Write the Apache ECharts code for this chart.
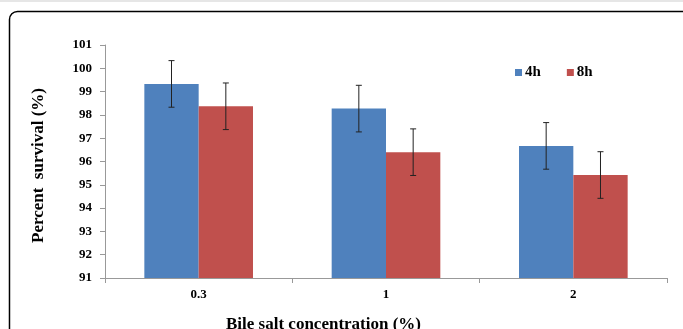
<!DOCTYPE html>
<html><head><meta charset="utf-8">
<script src="https://cdn.jsdelivr.net/npm/echarts@6/dist/echarts.min.js"></script>
<style>html,body{margin:0;padding:0;background:#fff}#c{width:683px;height:329px}</style>
</head><body><div id="c"></div>
<script>
const categories = ['0.3', '1', '2'];
const seriesNames = ['4h', '8h'];
const values4h = [99.33, 98.27, 96.67];
const values8h = [98.37, 96.40, 95.42];
const err4h = [1.0, 1.0, 1.0];
const err8h = [1.0, 1.0, 1.0];
const yTicks = [91, 92, 93, 94, 95, 96, 97, 98, 99, 100, 101];

const chart = echarts.init(document.getElementById('c'));
const FONT = '"Liberation Serif","Times New Roman",serif';
const catGap = 0.42;

function errSeries(vals, errs, idx) {
  return {
    type: 'custom',
    name: 'err' + idx,
    z: 10,
    data: vals.map((v, i) => [i, v, errs[i]]),
    renderItem: function (params, api) {
      const ci = api.value(0), v = api.value(1), e = api.value(2);
      const c = api.coord([ci, v]);
      const bandW = api.size([1, 0])[0];
      const bw = bandW * (1 - catGap) / 2;
      const x = c[0] + (idx === 0 ? -bw / 2 : bw / 2);
      const top = api.coord([ci, v + e])[1];
      const bot = api.coord([ci, v - e])[1];
      const cap = 3;
      const st = { stroke: '#222', lineWidth: 1 };
      return { type: 'group', children: [
        { type: 'line', shape: { x1: x, y1: top, x2: x, y2: bot }, style: st },
        { type: 'line', shape: { x1: x - cap, y1: top, x2: x + cap, y2: top }, style: st },
        { type: 'line', shape: { x1: x - cap, y1: bot, x2: x + cap, y2: bot }, style: st }
      ]};
    }
  };
}

chart.setOption({
  animation: false,
  graphic: [
    { type: 'rect', shape: { x: 0, y: 0, width: 683, height: 2 }, style: { fill: '#e6e6e6' } },
    { type: 'rect', shape: { x: 9.5, y: 11.5, width: 700, height: 360, r: 8 }, style: { fill: 'none', stroke: '#000', lineWidth: 1.5 }, z: -1 }
  ],
  legend: {
    data: seriesNames,
    left: 510, top: 60,
    itemWidth: 7, itemHeight: 7, itemGap: 26,
    icon: 'rect',
    textStyle: { fontFamily: FONT, fontWeight: 'bold', fontSize: 15, color: '#000', padding: [0, 0, 0, -2] }
  },
  grid: { left: 105, right: 16, top: 45, bottom: 51, containLabel: false, outerBoundsMode: 'none' },
  xAxis: {
    type: 'category',
    data: categories,
    name: 'Bile salt concentration (%)',
    nameLocation: 'middle', nameGap: 38,
    nameTextStyle: { fontFamily: FONT, fontWeight: 'bold', fontSize: 17, color: '#000', padding: [0, 125, 0, 0] },
    axisLine: { lineStyle: { color: '#999' } },
    axisTick: { show: true, alignWithLabel: false, length: 5, lineStyle: { color: '#999' } },
    axisLabel: { fontFamily: FONT, fontWeight: 'bold', fontSize: 13, color: '#000', margin: 10 }
  },
  yAxis: {
    type: 'value',
    min: yTicks[0], max: yTicks[yTicks.length - 1], interval: 1,
    name: 'Percent  survival (%)',
    nameLocation: 'middle', nameGap: 58, nameRotate: 90,
    nameTextStyle: { fontFamily: FONT, fontWeight: 'bold', fontSize: 17, color: '#000', padding: [0, 8, 0, 0] },
    splitLine: { show: false },
    axisLine: { show: true, lineStyle: { color: '#999' } },
    axisTick: { show: true, length: 5, lineStyle: { color: '#999' } },
    axisLabel: { fontFamily: FONT, fontWeight: 'bold', fontSize: 13, color: '#000', margin: 13 }
  },
  series: [
    { name: seriesNames[0], type: 'bar', data: values4h, barGap: '0%', barCategoryGap: (catGap * 100) + '%', itemStyle: { color: '#4F81BD' } },
    { name: seriesNames[1], type: 'bar', data: values8h, barGap: '0%', barCategoryGap: (catGap * 100) + '%', itemStyle: { color: '#C0504D' } },
    errSeries(values4h, err4h, 0),
    errSeries(values8h, err8h, 1)
  ]
});
</script></body></html>
